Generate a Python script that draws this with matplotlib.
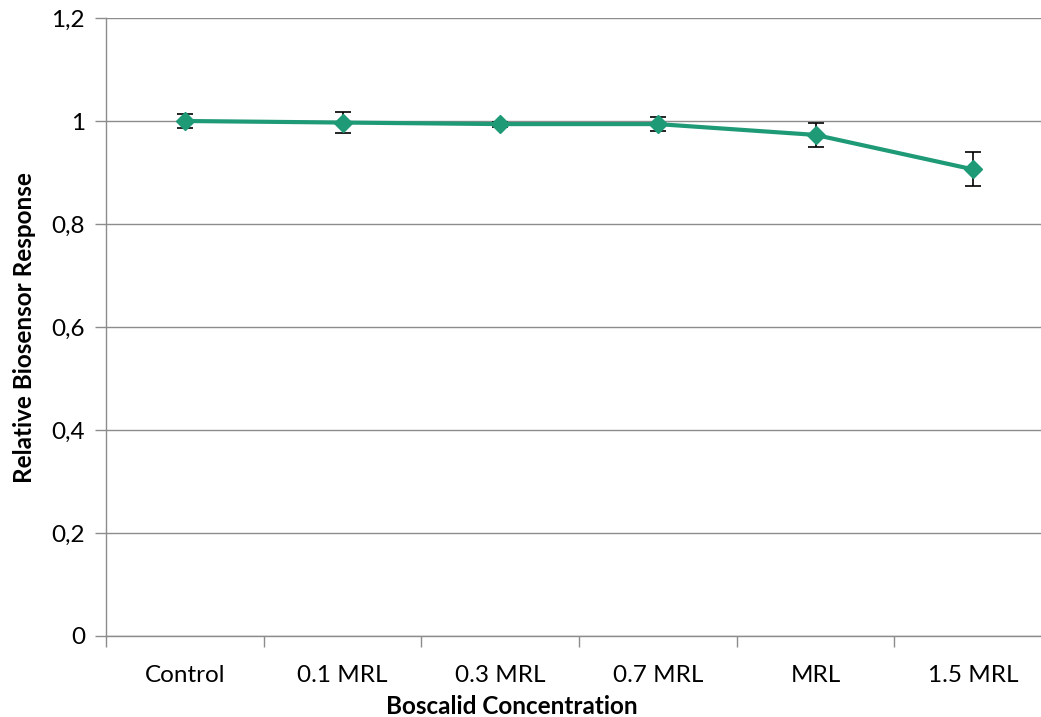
import matplotlib
matplotlib.use("Agg")
import matplotlib.pyplot as plt
from matplotlib.ticker import FixedLocator, FuncFormatter

categories = ["Control", "0.1 MRL", "0.3 MRL", "0.7 MRL", "MRL", "1.5 MRL"]
values = [1.0, 0.997, 0.994, 0.994, 0.973, 0.906]
errors = [0.014, 0.020, 0.005, 0.013, 0.024, 0.033]
yticks = [0, 0.2, 0.4, 0.6, 0.8, 1.0, 1.2]

plt.rcParams['font.family'] = ['Lato', 'DejaVu Sans']
fs = 17.5

fig = plt.figure(figsize=(10.41, 7.17), dpi=100)
ax = fig.add_axes([106/1041, 1 - 636/717, (1052 - 106)/1041, (636 - 18)/717])

color = '#1F9A77'
x = list(range(len(categories)))
ax.errorbar(x, values, yerr=errors, fmt='none', ecolor='black', elinewidth=1.2,
            capsize=6, capthick=1.2, zorder=3)
ax.plot(x, values, color=color, lw=3, marker='D', markersize=9.5, zorder=4)

ax.set_xlim(-0.5, len(categories) - 0.5)
ax.set_ylim(0, 1.2)
ax.set_yticks(yticks)
ax.yaxis.set_major_formatter(FuncFormatter(lambda v, p: ('%g' % round(v, 1)).replace('.', ',')))
ax.grid(axis='y', color='#8c8c8c', lw=1)
ax.set_axisbelow(True)

ax.set_xticks(x)
ax.set_xticklabels(categories)
ax.xaxis.set_minor_locator(FixedLocator([i - 0.5 for i in range(len(categories) + 1)]))
ax.tick_params(axis='x', which='major', length=0, pad=21, labelsize=fs)
ax.tick_params(axis='x', which='minor', length=8, color='#8c8c8c', width=1)
ax.tick_params(axis='y', length=8, color='#8c8c8c', width=1, pad=7, labelsize=fs)

for s in ['top', 'right']:
    ax.spines[s].set_visible(False)
for s in ['left', 'bottom']:
    ax.spines[s].set_color('#8c8c8c')
    ax.spines[s].set_linewidth(1)

fig.text(25/1041, 1 - 328/717, "Relative Biosensor Response", rotation=90,
         ha='center', va='center', fontsize=fs, fontweight='bold')
fig.text(512/1041, 1 - 706/717, "Boscalid Concentration",
         ha='center', va='center', fontsize=fs, fontweight='bold')

fig.savefig("out.png", dpi=100)
